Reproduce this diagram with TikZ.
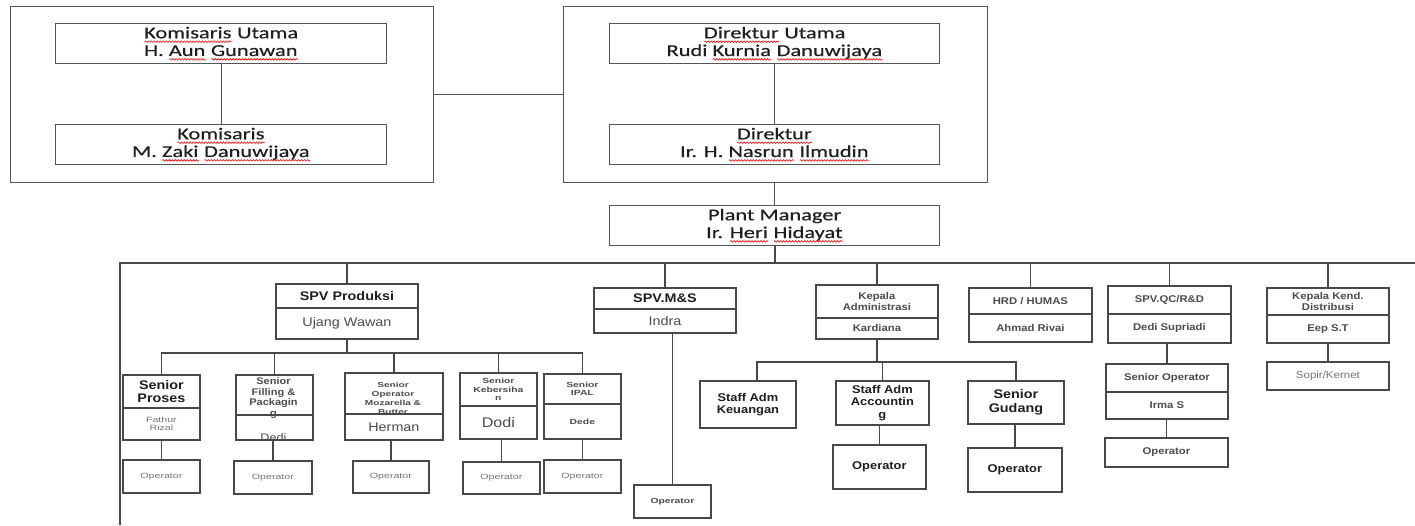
\documentclass[tikz,border=0pt]{standalone}
\usepackage{fontspec}
\usetikzlibrary{decorations.pathmorphing}
\newfontfamily\topfont{Carlito}[FakeStretch=1.35,FakeBold=0.4]
\newfontfamily\orgfont{Liberation Sans}[FakeStretch=1.15]
\newfontfamily\orgwide{Liberation Sans}[FakeStretch=1.4]
\newcommand\fs[2]{\fontsize{#1}{#2}\selectfont}
\newsavebox\sqbox
\newcommand\sqw[1]{\sbox\sqbox{#1}\rlap{\usebox\sqbox}\tikz[baseline=3.4pt]\draw[red,line width=0.6pt,decorate,decoration={snake,amplitude=0.8pt,segment length=3pt}] (0pt,0pt) -- (\the\wd\sqbox,0pt);}
\definecolor{framegray}{RGB}{85,85,85}
\definecolor{boxgray}{RGB}{72,72,72}
\definecolor{inkdark}{RGB}{30,30,30}
\definecolor{inkmid}{RGB}{75,75,75}
\definecolor{inklight}{RGB}{115,115,115}

\begin{document}
\begin{tikzpicture}[x=1pt,y=1pt,yscale=-1,xscale=1,
  topbox/.style={draw=framegray,line width=1.3pt,anchor=north west,inner sep=0pt,align=center,text=inkdark,font=\topfont\fs{16.6}{17.7}},
  orgbox/.style={draw=boxgray,line width=1.8pt,anchor=north west,inner sep=0pt,align=center},
  toplink/.style={draw=framegray,line width=1.3pt},
  orglink/.style={draw=boxgray,line width=1.8pt},
  big/.style={font=\orgfont\bfseries\fs{12.5}{13}, text=inkdark},
  mid/.style={font=\orgfont\fs{12.5}{13}, text=inkmid},
  small/.style={font=\orgfont\bfseries\fs{9.8}{11}, text=inkmid},
  staff/.style={font=\orgfont\bfseries\fs{11.2}{12.5}, text=inkdark},
  tiny/.style={font=\orgwide\bfseries\fs{7.4}{8.5}, text=inkmid},
  faint/.style={font=\orgwide\fs{7.6}{8.5}, text=inklight}]
\useasboundingbox (0,0) rectangle (1415,525);

%Board frames
\node [topbox, minimum width=423pt, minimum height=176pt] (kframe) at (10,6) {};
\node [topbox, minimum width=424pt, minimum height=176pt] (dframe) at (563,6) {};
% Text Node
\node [topbox, minimum width=331pt, minimum height=40pt] (kutama) at (55,23) {\sqw{Komisaris} Utama\\H. \sqw{Aun} \sqw{Gunawan}};
\node [topbox, minimum width=331pt, minimum height=40pt] (kom) at (55,124) {\sqw{Komisaris}\\M. \sqw{Zaki} \sqw{Danuwijaya}};
\node [topbox, minimum width=330pt, minimum height=40pt] (dutama) at (609,23) {\sqw{Direktur} Utama\\Rudi \sqw{Kurnia} \sqw{Danuwijaya}};
\node [topbox, minimum width=330pt, minimum height=40pt] (dir) at (609,124) {\sqw{Direktur}\\Ir. H. \sqw{Nasrun} \sqw{Ilmudin}};
\node [topbox, minimum width=330pt, minimum height=40pt] (pm) at (609,205) {Plant Manager\\Ir. \sqw{Heri} \sqw{Hidayat}};

%Straight Lines
\draw [toplink] (kframe.east) -- (dframe.west);
\draw [toplink] (kutama) -- (kom);
\draw [toplink] (dutama) -- (dir);
\draw [toplink] (pm.north |- dframe.south) -- (pm.north);

%Bus and frame
\coordinate (frameB) at (120,525);
\coordinate (busL) at (120,263);
\coordinate (busR) at (1415,263);
\draw [orglink] (frameB) -- (busL) -- (busR);
\draw [orglink] (pm.south) -- (pm.south |- busL);

%Heads
\node [orgbox, big, minimum width=142pt, minimum height=24pt] (prod) at (275,283) {SPV Produksi};
\node [orgbox, mid, minimum width=142pt, minimum height=31pt] (prod2) at (275,307) {Ujang Wawan};
\node [orgbox, big, minimum width=142pt, minimum height=21pt] (ms) at (593,287) {SPV.M\&S};
\node [orgbox, mid, minimum width=142pt, minimum height=24pt] (ms2) at (593,308) {Indra};
\node [orgbox, small, minimum width=122pt, minimum height=33pt] (adm) at (815,284) {Kepala\\Administrasi};
\node [orgbox, small, minimum width=122pt, minimum height=21pt] (adm2) at (815,317) {Kardiana};
\node [orgbox, small, minimum width=123pt, minimum height=26pt] (hrd) at (968,287) {HRD / HUMAS};
\node [orgbox, small, minimum width=123pt, minimum height=28pt] (hrd2) at (968,313) {Ahmad Rivai};
\node [orgbox, small, minimum width=123pt, minimum height=28pt] (qc) at (1107,285) {SPV.QC/R\&D};
\node [orgbox, small, minimum width=123pt, minimum height=29pt] (qc2) at (1107,313) {Dedi Supriadi};
\node [orgbox, small, minimum width=122pt, minimum height=27pt] (dist) at (1266,287) {Kepala Kend.\\Distribusi};
\node [orgbox, small, minimum width=122pt, minimum height=28pt] (dist2) at (1266,314) {Eep S.T};
\foreach \n in {prod,ms,adm,hrd,qc,dist}
  \draw [orglink] (\n.north) -- (\n.north |- busL);

%Produksi
\node [orgbox, big, minimum width=77pt, minimum height=33pt] (proses) at (122,374) {Senior\\Proses};
\node [orgbox, faint, minimum width=77pt, minimum height=32pt] (proses2) at (122,407) {Fathur\\Rizal};
\node [orgbox, faint, minimum width=77pt, minimum height=33pt] (proses3) at (122,459) {Operator};
\node [orgbox, minimum width=77pt, minimum height=40pt] (fill) at (235,374) {};
\node [orgbox, minimum width=77pt, minimum height=25pt] (fill2) at (235,414) {};
\node [orgbox, faint, minimum width=78pt, minimum height=33pt] (fill3) at (233,460) {Operator};
\node [orgbox, minimum width=98pt, minimum height=41pt] (moz) at (344,372) {};
\node [orgbox, mid, minimum width=98pt, minimum height=26pt] (moz2) at (344,413) {Herman};
\node [orgbox, faint, minimum width=76pt, minimum height=32pt] (moz3) at (352,460) {Operator};
\node [orgbox, tiny, minimum width=77pt, minimum height=33pt] (keb) at (459,372) {Senior\\Kebersiha\\n};
\node [orgbox, font=\orgfont\fs{14}{15}, text=inkmid, minimum width=77pt, minimum height=33pt] (keb2) at (459,405) {Dodi};
\node [orgbox, faint, minimum width=77pt, minimum height=32pt] (keb3) at (462,461) {Operator};
\node [orgbox, tiny, minimum width=77pt, minimum height=30pt] (ipal) at (543,373) {Senior\\IPAL};
\node [orgbox, tiny, minimum width=77pt, minimum height=35pt] (ipal2) at (543,403) {Dede};
\node [orgbox, faint, minimum width=77pt, minimum height=33pt] (ipal3) at (543,459) {Operator};
% Text Node
\node [font=\orgfont\bfseries\fs{9.6}{10.5}, text=inkmid, align=center] (filltxt) at (273.5,398) {Senior\\Filling \&\\Packagin\\g};
\begin{scope}
\clip (fill2.north west) rectangle (fill2.south east);
\node [font=\orgfont\fs{11}{12}, text=inkmid] (filldedi) at (273.5,438) {Dedi};
\end{scope}
\begin{scope}
\clip (moz.north west) rectangle (moz.south east);
\node [font=\orgwide\bfseries\fs{7.2}{9}, text=inkmid, align=center] (moztxt) at (393,398) {Senior\\Operator\\Mozarella \&\\Butter};
\end{scope}
\draw [orglink] (prod2.south) -- ++(0,13) coordinate (pbus);
\foreach \n in {proses,fill,moz,keb,ipal}{
  \draw [orglink] (pbus) -| (\n.north);
  \draw [orglink] (\n3.north) -- (\n3.north |- \n2.south);
}

%M&S
\node [orgbox, tiny, minimum width=77pt, minimum height=33pt] (msop) at (633,484) {Operator};
\draw [orglink] (msop.north) -- (msop.north |- ms2.south);

%Administrasi
\node [orgbox, staff, minimum width=96pt, minimum height=47pt] (keu) at (699,380) {Staff Adm\\Keuangan};
\node [orgbox, staff, minimum width=93pt, minimum height=44pt] (acc) at (835,380) {Staff Adm\\Accountin\\g};
\node [orgbox, staff, minimum width=93pt, minimum height=44pt] (accop) at (832,444) {Operator};
\node [orgbox, font=\orgfont\bfseries\fs{12.5}{14}, text=inkdark, minimum width=96pt, minimum height=43pt] (gud) at (967,380) {Senior\\Gudang};
\node [orgbox, staff, minimum width=94pt, minimum height=44pt] (gudop) at (967,447) {Operator};
\draw [orglink] (adm2.south) -- ++(0,22) coordinate (abus);
\draw [orglink] (abus) -| ([xshift=9pt]keu.north);
\foreach \n in {acc,gud}
  \draw [orglink] (abus) -| (\n.north);
\draw [orglink] (accop.north) -- (accop.north |- acc.south);
\draw [orglink] (gudop.north) -- (gudop.north |- gud.south);

%QC and Distribusi
\node [orgbox, small, minimum width=122pt, minimum height=28pt] (qcs) at (1105,363) {Senior Operator};
\node [orgbox, small, minimum width=122pt, minimum height=27pt] (qcs2) at (1105,391) {Irma S};
\node [orgbox, small, minimum width=123pt, minimum height=29pt] (qcop) at (1104,437) {Operator};
\node [orgbox, font=\orgfont\fs{10}{11}, text=inklight, minimum width=122pt, minimum height=28pt] (sopir) at (1266,361) {Sopir/Kernet};
\draw [orglink] (qcs.north) -- (qcs.north |- qc2.south);
\draw [orglink] (qcop.north) -- (qcop.north |- qcs2.south);
\draw [orglink] (dist2.south) -- (sopir.north);

\end{tikzpicture}
\end{document}
